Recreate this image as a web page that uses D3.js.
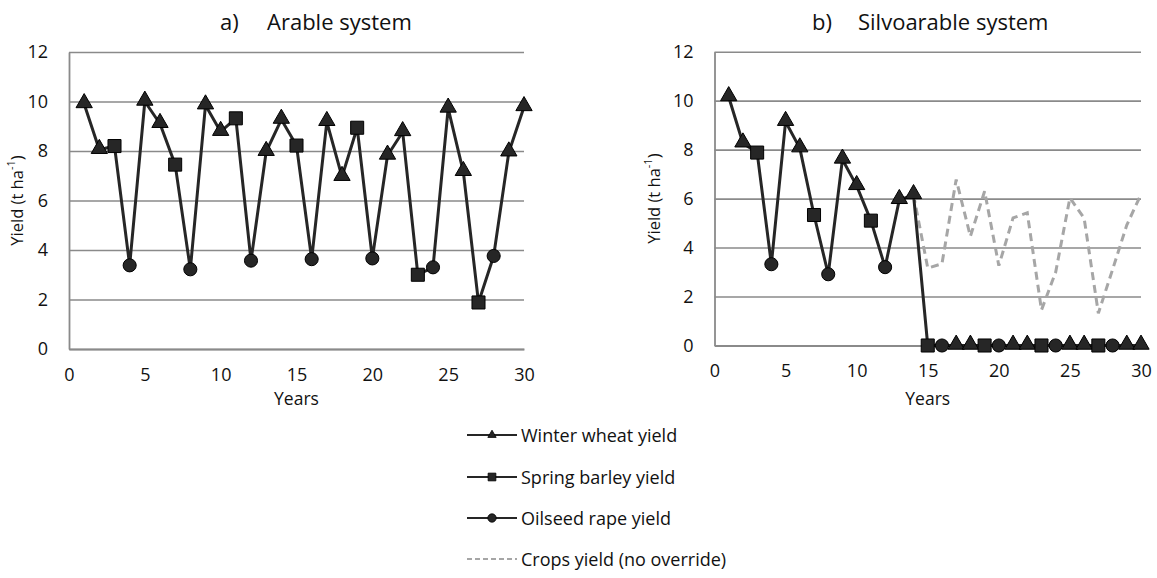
<!DOCTYPE html>
<html>
<head>
<meta charset="utf-8">
<script src="https://cdn.jsdelivr.net/npm/d3@7"></script>
<style>
  body { margin: 0; background: #fff; }
  svg { display: block; font-family: "Open Sans", sans-serif; }
</style>
</head>
<body>
<svg id="chart" width="1157" height="578"></svg>
<script>
// ---- Data ----
const years = d3.range(1, 31);
// W = winter wheat, B = spring barley, R = oilseed rape
const cropSeq = ["W","W","B","R","W","W","B","R","W","W","B","R","W","W","B","R",
                 "W","W","B","R","W","W","B","R","W","W","B","R","W","W"];
const arableYield = [9.9, 8.05, 8.2, 3.38, 10.0, 9.1, 7.45, 3.22, 9.85, 8.78,
                     9.32, 3.57, 7.97, 9.27, 8.22, 3.63, 9.18, 6.96, 8.94, 3.66,
                     7.82, 8.77, 3.0, 3.3, 9.72, 7.16, 1.88, 3.76, 7.95, 9.78];
const silvoYield = [10.15, 8.26, 7.88, 3.32, 9.14, 8.06, 5.33, 2.91, 7.6, 6.52,
                    5.1, 3.2, 5.95, 6.15, 0, 0, 0, 0, 0, 0,
                    0, 0, 0, 0, 0, 0, 0, 0, 0, 0];
const noOverrideYears = d3.range(14, 31);
const noOverrideYield = [6.15, 3.16, 3.34, 6.78, 4.46, 6.3, 3.26, 5.21, 5.42,
                         1.45, 3.0, 6.03, 5.2, 1.32, 3.1, 4.92, 6.17];
const yTicks = [0, 2, 4, 6, 8, 10, 12];
const xTicks = [0, 5, 10, 15, 20, 25, 30];
const titles = [["a)", "Arable system"], ["b)", "Silvoarable system"]];
const legendLabels = ["Winter wheat yield", "Spring barley yield", "Oilseed rape yield", "Crops yield (no override)"];

// ---- Styles ----
const lineColor = "#262626";
const gridColor = "#8a8a8a";
const dashColor = "#a6a6a6";
const symbolFor = { W: d3.symbolTriangle, B: d3.symbolSquare, R: d3.symbolCircle };
const sizeFor = { W: 115, B: 170, R: 135 };

const svg = d3.select("#chart");

const panels = [
  { x0: 69, x1: 524, y0: 349, y1: 52, data: arableYield, title: titles[0], titleX: [220, 267], ylabX: 16 },
  { x0: 714.5, x1: 1141, y0: 345.5, y1: 51.7, data: silvoYield, title: titles[1], titleX: [812, 858], ylabX: 653,
    dashed: { years: noOverrideYears, values: noOverrideYield } }
];

panels.forEach(p => {
  const x = d3.scaleLinear().domain([0, 30]).range([p.x0, p.x1]);
  const y = d3.scaleLinear().domain([0, 12]).range([p.y0, p.y1]);
  const g = svg.append("g");

  // y grid + labels
  const yAxis = g.append("g")
    .attr("transform", `translate(${p.x0},0)`)
    .call(d3.axisLeft(y).tickValues(yTicks).tickSizeInner(-(p.x1 - p.x0)).tickSizeOuter(0).tickPadding(21));
  yAxis.selectAll(".tick line").attr("stroke", gridColor).attr("stroke-width", 1.6);
  yAxis.select(".domain").attr("stroke", gridColor).attr("stroke-width", 1.8);
  yAxis.selectAll("text").attr("font-size", 18).attr("fill", "#111").attr("font-family", "Open Sans");

  // x axis
  const xAxis = g.append("g")
    .attr("transform", `translate(0,${p.y0})`)
    .call(d3.axisBottom(x).tickValues(xTicks).tickSizeInner(0).tickSizeOuter(0).tickPadding(19));
  xAxis.select(".domain").attr("stroke", gridColor).attr("stroke-width", 1.8);
  xAxis.selectAll("text").attr("font-size", 18).attr("fill", "#111").attr("font-family", "Open Sans");

  // axis titles
  g.append("text")
    .attr("x", (p.x0 + p.x1) / 2).attr("y", 398)
    .attr("text-anchor", "middle").attr("dominant-baseline", "central")
    .attr("font-size", 17.5).attr("fill", "#111").text("Years");

  const yl = g.append("text")
    .attr("transform", `translate(${p.ylabX},${(p.y0 + p.y1) / 2}) rotate(-90)`)
    .attr("text-anchor", "middle").attr("dominant-baseline", "central")
    .attr("font-size", 16.5).attr("fill", "#111");
  yl.append("tspan").text("Yield (t ha");
  yl.append("tspan").attr("font-size", 11).attr("dy", -6).text("-1");
  yl.append("tspan").attr("dy", 6).text(")");

  // title
  g.append("text").attr("x", p.titleX[0]).attr("y", 30)
    .attr("font-size", 22).attr("fill", "#111").text(p.title[0]);
  g.append("text").attr("x", p.titleX[1]).attr("y", 30)
    .attr("font-size", 22).attr("fill", "#111").text(p.title[1]);

  // dashed no-override series
  if (p.dashed) {
    const dl = d3.line().x((d, i) => x(p.dashed.years[i])).y(d => y(d));
    g.append("path").datum(p.dashed.values)
      .attr("d", dl).attr("fill", "none")
      .attr("stroke", dashColor).attr("stroke-width", 3)
      .attr("stroke-dasharray", "8,5");
  }

  // main line
  const line = d3.line().x((d, i) => x(years[i])).y(d => y(d));
  g.append("path").datum(p.data)
    .attr("d", line).attr("fill", "none")
    .attr("stroke", lineColor).attr("stroke-width", 3).attr("stroke-linejoin", "round");

  // markers
  g.selectAll("path.mk").data(p.data).enter().append("path")
    .attr("class", "mk")
    .attr("transform", (d, i) => `translate(${x(years[i])},${y(d) + (cropSeq[i] === "W" ? -1 : 0)})`)
    .attr("d", (d, i) => d3.symbol().type(symbolFor[cropSeq[i]]).size(sizeFor[cropSeq[i]])())
    .attr("fill", lineColor).attr("stroke", "#000").attr("stroke-width", 1);
});

// ---- Legend ----
const legendY = [435, 477, 518, 559];
const legendKeys = ["W", "B", "R", null];
const lg = svg.append("g");
legendLabels.forEach((lab, i) => {
  const yy = legendY[i];
  if (legendKeys[i]) {
    lg.append("line").attr("x1", 467).attr("x2", 517).attr("y1", yy).attr("y2", yy)
      .attr("stroke", lineColor).attr("stroke-width", 2);
    const sizes = { W: 30, B: 60, R: 55 };
    lg.append("path").attr("transform", `translate(492,${yy})`)
      .attr("d", d3.symbol().type(symbolFor[legendKeys[i]]).size(sizes[legendKeys[i]])())
      .attr("fill", lineColor).attr("stroke", "#000").attr("stroke-width", 0.8);
  } else {
    lg.append("line").attr("x1", 467).attr("x2", 517).attr("y1", yy).attr("y2", yy)
      .attr("stroke", dashColor).attr("stroke-width", 2).attr("stroke-dasharray", "5,3");
  }
  lg.append("text").attr("x", 521).attr("y", yy)
    .attr("dominant-baseline", "central").attr("font-size", 18).attr("fill", "#111")
    .text(lab);
});
</script>
</body>
</html>
